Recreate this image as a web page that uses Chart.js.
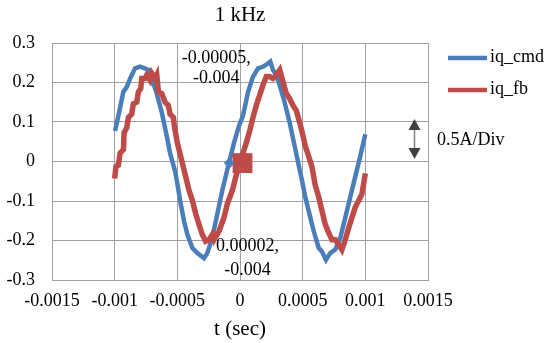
<!DOCTYPE html>
<html>
<head>
<meta charset="utf-8">
<script src="https://cdn.jsdelivr.net/npm/chart.js@4.4.1/dist/chart.umd.min.js"></script>
<style>
  html, body { margin: 0; padding: 0; background: #fff; }
  #wrap { width: 550px; height: 343px; }
</style>
</head>
<body>
<div id="wrap"><canvas id="freqChart" width="550" height="343"></canvas></div>
<script>
// iq_cmd samples (time in sec, current)
const cmdTime = [-0.000997, -0.000970, -0.000931, -0.000903, -0.000877, -0.000837, -0.000797, -0.000758, -0.000731, -0.000704,
    -0.000664, -0.000624, -0.000584, -0.000558, -0.000518, -0.000500, -0.000473, -0.000447, -0.000420, -0.000380,
    -0.000340, -0.000287, -0.000261, -0.000221, -0.000181, -0.000141, -0.000088, -0.000048, -0.000008, 0.000024,
    0.000064, 0.000104, 0.000144, 0.000183, 0.000210, 0.000242, 0.000263, 0.000289, 0.000317, 0.000356,
    0.000396, 0.000436, 0.000476, 0.000494, 0.000521, 0.000548, 0.000588, 0.000628, 0.000654, 0.000686,
    0.000720, 0.000760, 0.000800, 0.000840, 0.000880, 0.000919, 0.000959, 0.001];
const cmdValues = [0.077, 0.116, 0.176, 0.189, 0.21, 0.236, 0.24, 0.236, 0.232, 0.21,
    0.172, 0.124, 0.064, 0.021, -0.025, -0.056, -0.107, -0.15, -0.185, -0.219,
    -0.232, -0.245, -0.232, -0.193, -0.133, -0.073, -0.004, 0.047, 0.09, 0.116,
    0.176, 0.215, 0.236, 0.24, 0.245, 0.253, 0.232, 0.219, 0.193, 0.15,
    0.099, 0.039, -0.021, -0.047, -0.09, -0.125, -0.176, -0.219, -0.228, -0.249,
    -0.232, -0.223, -0.193, -0.142, -0.09, -0.039, 0.013, 0.069];

// iq_fb samples
const fbTime = [-0.001, -0.00099, -0.00097, -0.000957, -0.00093, -0.000925, -0.000903, -0.00089, -0.000864, -0.000851,
    -0.000824, -0.000811, -0.000792, -0.000784, -0.000758, -0.000744, -0.000718, -0.000704, -0.000678, -0.000664,
    -0.000651, -0.000624, -0.000598, -0.000572, -0.000558, -0.000532, -0.000524, -0.0005, -0.000473, -0.00046,
    -0.000433, -0.000407, -0.00038, -0.000353, -0.000327, -0.000301, -0.000274, -0.000247, -0.000221, -0.000207,
    -0.000167, -0.000128, -0.000101, -0.000061, -0.000034, -0.000008, 0.00002, 0.000024, 0.00005, 0.000077,
    0.000104, 0.00013, 0.000157, 0.000183, 0.00021, 0.000237, 0.000263, 0.000289, 0.000317, 0.000343,
    0.000369, 0.000396, 0.000423, 0.000449, 0.000476, 0.000494, 0.000521, 0.000548, 0.000574, 0.0006,
    0.000628, 0.000654, 0.00068, 0.000707, 0.000734, 0.00076, 0.000787, 0.000813, 0.00084, 0.000867,
    0.000893, 0.000919, 0.000947, 0.000973, 0.001];
const fbValues = [-0.043, -0.013, -0.009, 0.021, 0.03, 0.073, 0.086, 0.112, 0.12, 0.146,
    0.15, 0.176, 0.185, 0.21, 0.21, 0.219, 0.206, 0.223, 0.21, 0.219,
    0.176, 0.172, 0.15, 0.142, 0.12, 0.112, 0.09, 0.047, 0.013, -0.004,
    -0.039, -0.073, -0.099, -0.133, -0.159, -0.185, -0.202, -0.198, -0.185, -0.198,
    -0.176, -0.142, -0.107, -0.073, -0.039, -0.013, -0.004, 0.021, 0.047, 0.077,
    0.112, 0.142, 0.168, 0.193, 0.215, 0.215, 0.21, 0.219, 0.232, 0.202,
    0.172, 0.159, 0.142, 0.129, 0.099, 0.077, 0.039, 0.013, -0.013, -0.06,
    -0.09, -0.125, -0.159, -0.18, -0.198, -0.198, -0.21, -0.223, -0.198, -0.168,
    -0.142, -0.116, -0.099, -0.082, -0.03];

// labelled points
const cmdMark = { x: -0.000085, y: -0.004 };
const fbMark = { x: 0.00002, y: -0.004 };

const xTicks = [-0.0015, -0.001, -0.0005, 0, 0.0005, 0.001, 0.0015];
const yTicks = [-0.3, -0.2, -0.1, 0, 0.1, 0.2, 0.3];

const blue = '#4a7ebb';
const red = '#be4b48';
const serif = 'Liberation Serif';

function toPoints(xs, ys) {
    return xs.map((x, i) => ({ x: x, y: ys[i] }));
}

const extras = {
    id: 'extras',
    afterDraw(chart) {
        const ctx = chart.ctx;
        const area = chart.chartArea;
        const xs = chart.scales.x, ys = chart.scales.y;
        ctx.save();
        ctx.fillStyle = '#000';
        ctx.textAlign = 'center';
        ctx.textBaseline = 'middle';

        // title, centred over the plot area
        ctx.font = '21px "' + serif + '"';
        ctx.fillText('1 kHz', (area.left + area.right) / 2, 15);

        ctx.font = '18px "' + serif + '"';
        // data labels
        let px = xs.getPixelForValue(cmdMark.x), py = ys.getPixelForValue(cmdMark.y);
        ctx.fillText('-0.00005,', px - 13, py - 105);
        ctx.fillText('-0.004', px - 13, py - 85);
        px = xs.getPixelForValue(fbMark.x); py = ys.getPixelForValue(fbMark.y);
        ctx.fillText('0.00002,', px + 5, py + 83);
        ctx.fillText('-0.004', px + 5, py + 107);

        // legend
        ctx.textAlign = 'left';
        ctx.lineWidth = 4.5;
        ctx.strokeStyle = blue;
        ctx.beginPath(); ctx.moveTo(448, 58); ctx.lineTo(487, 58); ctx.stroke();
        ctx.strokeStyle = red;
        ctx.beginPath(); ctx.moveTo(448, 90); ctx.lineTo(487, 90); ctx.stroke();
        ctx.fillText('iq_cmd', 490, 57);
        ctx.fillText('iq_fb', 490, 89);

        // scale arrow
        ctx.strokeStyle = '#808080';
        ctx.lineWidth = 1.5;
        ctx.beginPath(); ctx.moveTo(414.5, 128); ctx.lineTo(414.5, 151); ctx.stroke();
        ctx.fillStyle = '#404040';
        ctx.beginPath(); ctx.moveTo(414.5, 119); ctx.lineTo(408.5, 130); ctx.lineTo(420.5, 130); ctx.closePath(); ctx.fill();
        ctx.beginPath(); ctx.moveTo(414.5, 159); ctx.lineTo(408.5, 148); ctx.lineTo(420.5, 148); ctx.closePath(); ctx.fill();
        ctx.fillStyle = '#000';
        ctx.fillText('0.5A/Div', 437, 140);
        ctx.restore();
    }
};

const chart = new Chart(document.getElementById('freqChart').getContext('2d'), {
    type: 'line',
    data: {
        datasets: [{
            label: 'iq_cmd_mark',
            data: [cmdMark],
            type: 'scatter',
            pointStyle: 'rectRot',
            pointRadius: 5,
            backgroundColor: blue,
            borderColor: blue,
            order: 0
        }, {
            label: 'iq_fb_mark',
            data: [fbMark],
            type: 'scatter',
            pointStyle: 'rect',
            pointRadius: 14,
            borderWidth: 0,
            backgroundColor: red,
            borderColor: red,
            order: 0
        }, {
            label: 'iq_fb',
            data: toPoints(fbTime, fbValues),
            borderColor: red,
            borderWidth: 5.5,
            pointRadius: 0,
            tension: 0,
            order: 1
        }, {
            label: 'iq_cmd',
            data: toPoints(cmdTime, cmdValues),
            borderColor: blue,
            borderWidth: 4.5,
            pointRadius: 0,
            tension: 0,
            order: 2
        }]
    },
    options: {
        responsive: false,
        animation: false,
        layout: { padding: { top: 43, right: 122, bottom: 0, left: 0 } },
        plugins: {
            legend: { display: false },
            tooltip: { enabled: false },
            title: { display: false }
        },
        scales: {
            x: {
                type: 'linear',
                min: -0.0015,
                max: 0.0015,
                afterFit(scale) { scale.height = 63; },
                afterBuildTicks(scale) { scale.ticks = xTicks.map(v => ({ value: v })); },
                grid: { color: '#a0a0a0', drawTicks: false },
                border: { color: '#a0a0a0' },
                ticks: {
                    color: '#000',
                    padding: 10,
                    maxRotation: 0,
                    font: { family: serif, size: 18 },
                    callback: v => String(v)
                },
                title: {
                    display: true,
                    text: 't (sec)',
                    color: '#000',
                    font: { family: serif, size: 21 },
                    padding: { top: 0, bottom: 1 }
                }
            },
            y: {
                min: -0.3,
                max: 0.3,
                afterFit(scale) { scale.width = 52; },
                afterBuildTicks(scale) { scale.ticks = yTicks.map(v => ({ value: v })); },
                grid: { color: '#a0a0a0', drawTicks: false },
                border: { color: '#a0a0a0' },
                ticks: {
                    color: '#000',
                    padding: 17,
                    font: { family: serif, size: 18 },
                    callback: v => String(v)
                }
            }
        }
    },
    plugins: [extras]
});
</script>
</body>
</html>
